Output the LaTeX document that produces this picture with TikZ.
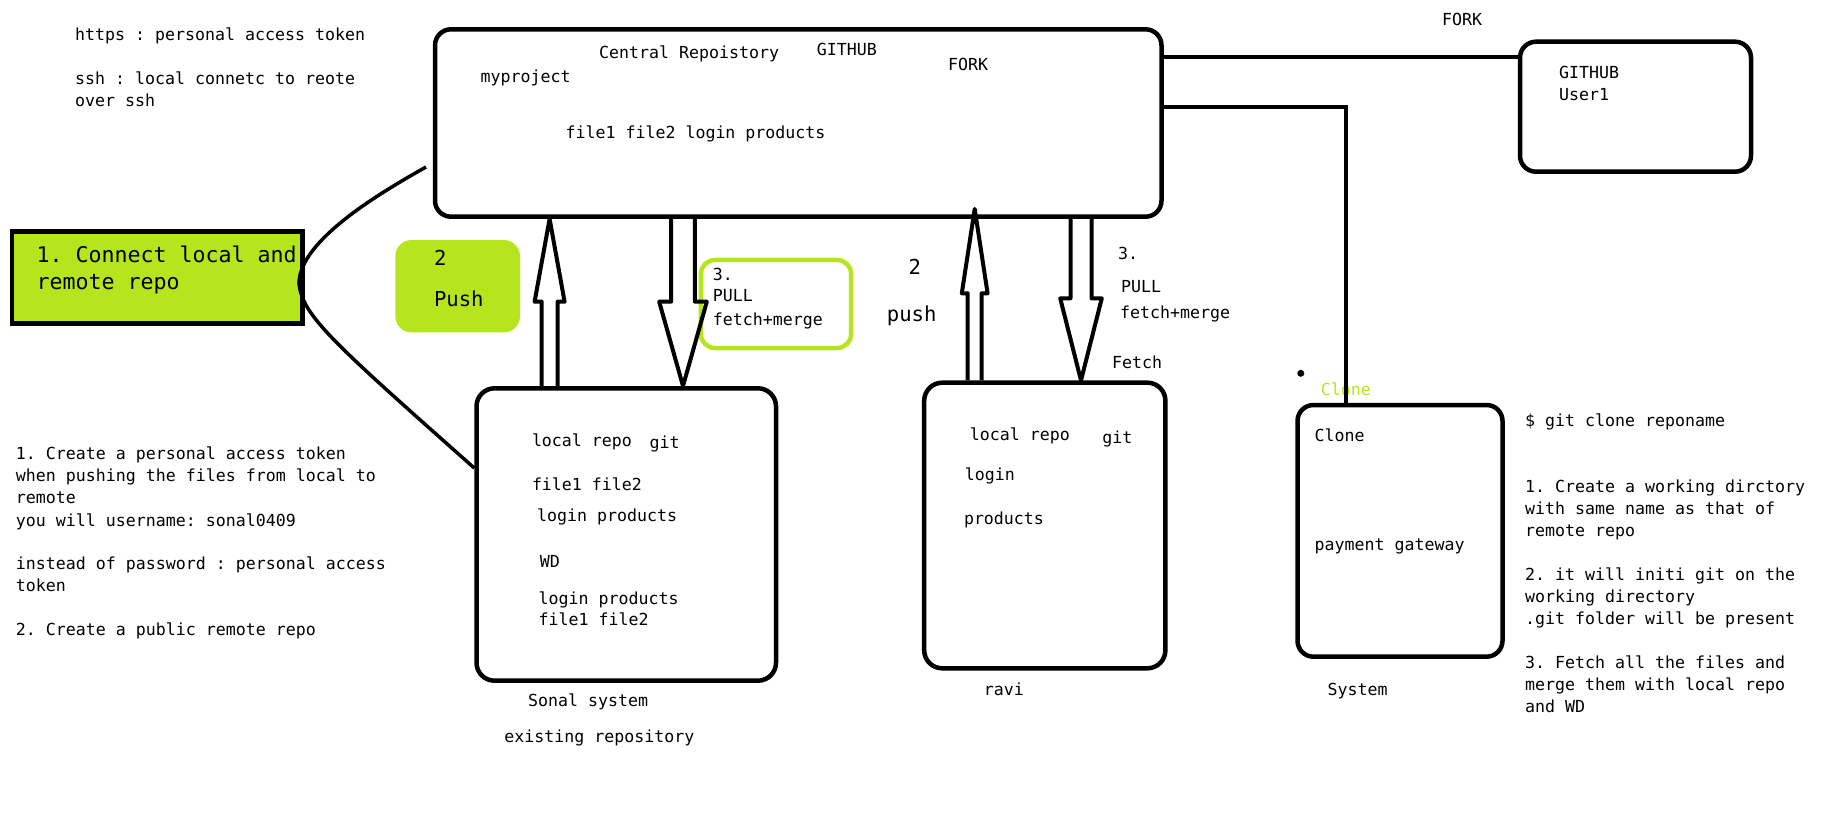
\documentclass[tikz,border=0pt]{standalone}
\usepackage{fontspec}
\setmonofont{DejaVu Sans Mono}
\usetikzlibrary{calc}
\definecolor{lime}{HTML}{B5E61D}

\begin{document}
\begin{tikzpicture}[
x=1pt, y=-1pt,
box/.style={draw, line width=4.5pt, rounded corners=16pt, inner sep=0pt},
limebox/.style={fill=lime, inner sep=0pt},
note/.style={font=\ttfamily\fontsize{16.6}{22}\selectfont, anchor=base west, inner sep=0pt},
big/.style={font=\ttfamily\fontsize{20.6}{26}\selectfont, anchor=base west, inner sep=0pt},
link/.style={line width=4pt},
hollow/.style={line width=4pt, line join=round}
]

\useasboundingbox (0,0) rectangle (1829,821);

%%% Top left notes
\node[note] (https) at (75,41) {https : personal access token};
\node[note] (ssh) at (75,85) {ssh : local connetc to reote};
\node[note] (sshb) at (75,106.7) {over ssh};

%%% Central repository
\node[box, minimum width=726.5pt, minimum height=187.4pt] (central) at (798.25,123) {};
\node[note] (cname) at (599,58.3) {Central Repoistory};
\node[note] (cgit) at (816.7,55.7) {GITHUB};
\node[note] (cfork) at (948,70.7) {FORK};
\node[note] (cproj) at (480.4,82.3) {myproject};
\node[note] (cfiles) at (565.4,138.3) {file1 file2 login products};

%%% Fork to User1
\node[box, minimum width=231pt, minimum height=130pt] (user1) at (1635.5,106.7) {};
\node[note] (ugit) at (1559,78.3) {GITHUB};
\node[note] (uname) at (1559,101) {User1};
\node[note] (fork) at (1442,25.7) {FORK};
\draw[link] (central.east |- 0,57) -- (user1.west |- 0,57);

%%% Step boxes
\node[limebox, draw=black, line width=4.5pt, minimum width=290.6pt, minimum height=91.6pt] (connect) at (157.2,277.5) {};
\node[big, font=\ttfamily\fontsize{21.6}{26}\selectfont] (conA) at (36.4,262) {1. Connect local and};
\node[big, font=\ttfamily\fontsize{21.6}{26}\selectfont] (conB) at (36.4,289.3) {remote repo};

\node[limebox, rounded corners=16pt, minimum width=124.6pt, minimum height=92.3pt] (pushbox) at (457.7,286.2) {};
\node[big] (pushA) at (433.8,265.3) {2};
\node[big] (pushB) at (433.8,306) {Push};

\node[draw=lime, line width=4.5pt, rounded corners=14pt, minimum width=150.3pt, minimum height=88pt, inner sep=0pt] (pullbox) at (776,304) {};
\node[note] (pullA) at (712.7,280) {3.};
\node[note] (pullB) at (712.7,301.7) {PULL};
\node[note] (pullC) at (712.7,325) {fetch+merge};

\node[big] (rpushA) at (908.4,274.3) {2};
\node[big] (rpushB) at (886.7,321) {push};
\node[note] (rpullA) at (1118,260) {3.};
\node[note] (rpullB) at (1121,292.3) {PULL};
\node[note] (rpullC) at (1120,318.3) {fetch+merge};
\node[note] (rfetch) at (1112,368) {Fetch};

%%% Sonal system
\node[box, rounded corners=18pt, minimum width=299.5pt, minimum height=292.4pt] (sonal) at (626.25,534.5) {};
\node[note] (slocal) at (531.8,446) {local repo};
\node[note] (sgit) at (649.4,448) {git};
\node[note] (sfilesA) at (531.8,490) {file1 file2};
\node[note] (sloginA) at (537,521.7) {login products};
\node[note] (swd) at (539.7,567.3) {WD};
\node[note] (sloginB) at (538.5,604.3) {login products};
\node[note] (sfilesB) at (538.5,625.7) {file1 file2};
\node[note] (sname) at (527.9,706.7) {Sonal system};
\node[note] (sexist) at (504.2,742.7) {existing repository};

%%% ravi
\node[box, rounded corners=18pt, minimum width=241.2pt, minimum height=285.6pt] (ravi) at (1044.8,525.5) {};
\node[note] (rlocal) at (969.7,440) {local repo};
\node[note] (rgit) at (1102.2,443) {git};
\node[note] (rlogin) at (964.6,480) {login};
\node[note] (rprod) at (963.8,524) {products};
\node[note] (rname) at (983.6,695) {ravi};

%%% Clone system
\node[box, minimum width=205pt, minimum height=251.7pt] (clone) at (1400,530.85) {};
\node[note, text=lime] (clonetag) at (1320.6,395) {Clone};
\node[note] (clname) at (1314.5,441) {Clone};
\node[note] (clpay) at (1314.5,550.7) {payment gateway};
\node[note] (clsys) at (1327.5,695) {System};
\fill (1300.8,373.3) circle (3.5pt);
\draw[link] (central.east |- 0,107) -| (clone.north -| 1346,0);

%%% Link curve
\coordinate (bend) at (426,167);
\draw[line width=3.5pt] (bend) .. controls (380,193) and (300,240) .. (299,283)
	.. controls (302,315) and (330,340) .. (sonal.west |- 0,468);

%%% Push / pull arrows
\foreach \base/\tip/\x/\s/\h/\neck/\dy in {
	sonal.north/central.south/549.6/7.9/15/301.7/0,
	central.south/sonal.north/683/11.9/23.8/301.7/0,
	ravi.north/central.south/974.7/7/12.9/293.3/-10,
	central.south/ravi.north/1081/10.5/20.8/298.3/0
	}{
	\pgfmathsetmacro{\shl}{\x-\s}
	\pgfmathsetmacro{\shr}{\x+\s}
	\pgfmathsetmacro{\hdl}{\x-\h}
	\pgfmathsetmacro{\hdr}{\x+\h}
	\draw[hollow] (\shl,0 |- \base) -- (\shl,\neck) -- (\hdl,\neck)
		-- ($(\x,0 |- \tip)+(0,\dy)$) -- (\hdr,\neck) -- (\shr,\neck) -- (\shr,0 |- \base);
}

%%% Left notes
\foreach \n/\y/\txt in {
	1/459.3/1. Create a personal access token,
	2/481.7/when pushing the files from local to,
	3/503.3/remote,
	4/526/you will username: sonal0409,
	5/569/instead of password : personal access,
	6/591/token,
	7/635/2. Create a public remote repo
	}{
	\node[note] (token\n) at (15.8,\y) {\txt};
}

%%% Clone notes
\foreach \n/\y/\txt in {
	1/426.7/\$ git clone reponame,
	2/492.7/1. Create a working dirctory,
	3/514.3/with same name as that of,
	4/536.7/remote repo,
	5/580/2. it will initi git on the,
	6/602.3/working directory,
	7/624.3/.git folder will be present,
	8/668.3/3. Fetch all the files and,
	9/690/merge them with local repo,
	10/712.3/and WD
	}{
	\node[note] (clonenote\n) at (1525,\y) {\txt};
}

\end{tikzpicture}
\end{document}
